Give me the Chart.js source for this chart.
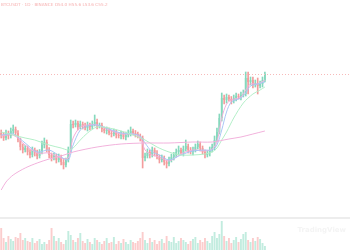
<!DOCTYPE html>
<html>
<head>
<meta charset="utf-8">
<script src="https://cdn.jsdelivr.net/npm/chart.js@4.4.1/dist/chart.umd.min.js"></script>
<style>
  body { margin: 0; background: #fff; }
  #wrap { position: relative; width: 350px; height: 250px; overflow: hidden; }
  #sep { height: 2px; background: #ededed; }
  canvas { display: block; }
  #legend { position: absolute; left: 1px; top: 2px; font: 4.2px "DejaVu Sans", sans-serif; color: #f6b0b0; white-space: nowrap; }
  #mark { position: absolute; right: 4px; top: 226px; font: bold 7px "DejaVu Sans", sans-serif; color: #f4f4f4; }
</style>
</head>
<body>
<div id="wrap">
  <canvas id="price" width="350" height="217"></canvas>
  <div id="sep"></div>
  <canvas id="vol" width="350" height="31"></canvas>
  <div id="legend">BTCUSDT · 1D · BINANCE  O54.0 H55.6 L53.6 C55.2</div>
  <div id="mark">TradingView</div>
</div>
<script>
// candles, one per slot
const opens = [43.4,43.0,42.4,43.4,42.8,43.8,44.2,43.4,42.0,40.6,
  40.0,40.4,39.6,39.0,40.0,39.4,38.8,39.6,41.0,41.6,
  40.0,39.0,38.4,38.8,38.0,38.6,37.6,37.0,38.0,40.0,
  45.2,45.0,45.4,44.6,45.2,44.8,44.4,45.0,44.6,45.2,
  45.6,44.8,45.0,44.2,43.8,44.0,43.4,43.2,43.6,43.0,
  42.8,43.2,42.6,43.0,43.4,43.8,43.4,43.2,42.8,42.4,
  38.4,38.8,39.6,39.0,40.0,39.4,38.6,38.0,38.4,37.6,
  37.2,38.0,38.6,39.0,39.6,40.0,39.4,40.2,40.8,40.0,
  39.6,40.0,40.6,41.2,40.4,39.6,39.0,39.4,40.0,40.6,
  42.0,43.6,46.4,50.4,50.0,50.6,50.2,49.8,50.4,50.8,
  50.6,51.0,51.2,54.4,53.6,54.0,53.0,53.4,52.8,53.2,
  54.0];
const closes = [43.0,42.4,43.4,42.8,43.8,44.2,43.4,42.0,40.6,40.0,
  40.4,39.6,39.0,40.0,39.4,38.8,39.6,41.0,41.6,40.0,
  39.0,38.4,38.8,38.0,38.6,37.6,37.0,38.0,40.0,45.2,
  45.0,45.4,44.6,45.2,44.8,44.4,45.0,44.6,45.2,45.6,
  44.8,45.0,44.2,43.8,44.0,43.4,43.2,43.6,43.0,42.8,
  43.2,42.6,43.0,43.4,43.8,43.4,43.2,42.8,42.4,38.4,
  38.8,39.6,39.0,40.0,39.4,38.6,38.0,38.4,37.6,37.2,
  38.0,38.6,39.0,39.6,40.0,39.4,40.2,40.8,40.0,39.6,
  40.0,40.6,41.2,40.4,39.6,39.0,39.4,40.0,40.6,42.0,
  43.6,46.4,50.4,50.0,50.6,50.2,49.8,50.4,50.8,50.6,
  51.0,51.2,54.4,53.6,54.0,53.0,53.4,52.8,53.2,54.0,
  55.2];
const highs = [44.0,43.5,44.0,43.8,44.4,45.0,44.6,43.9,42.4,41.2,
  40.9,40.8,40.1,40.6,40.4,40.0,40.1,41.8,42.4,42.0,
  40.5,39.4,39.4,39.2,39.2,39.0,38.1,38.4,40.6,46.0,
  45.8,46.0,45.8,45.8,45.6,45.4,45.6,45.4,45.8,47.0,
  46.2,45.4,45.4,44.6,44.6,44.4,43.9,44.2,44.0,43.5,
  43.8,43.6,43.6,44.0,44.6,44.2,43.9,43.6,43.2,42.8,
  39.4,40.2,40.0,40.6,40.4,39.9,39.0,39.0,38.8,38.0,
  38.6,39.2,39.5,40.2,40.8,40.4,40.8,42.0,41.2,40.5,
  40.6,41.2,41.8,41.6,40.8,40.0,39.9,40.6,41.2,42.8,
  44.4,47.2,51.4,51.0,51.2,51.0,50.7,51.0,51.4,51.2,
  51.6,52.0,55.6,55.6,54.6,54.6,54.0,54.4,53.8,54.6,
  55.6];
const lows = [42.4,41.9,42.0,42.2,42.4,43.3,42.8,41.6,40.0,39.4,
  39.6,39.0,38.4,38.6,38.8,38.2,38.4,39.2,40.4,39.6,
  38.4,37.8,38.0,37.4,37.6,37.0,36.2,36.6,37.6,39.6,
  44.4,44.6,44.0,44.2,44.2,44.0,43.8,44.0,44.2,44.8,
  44.2,44.4,43.6,43.4,43.2,43.0,42.6,42.8,42.4,42.4,
  42.2,42.2,42.0,42.6,42.8,43.0,42.6,42.4,41.8,36.4,
  37.8,38.4,38.4,38.6,38.8,38.2,37.4,37.6,37.0,36.4,
  36.8,37.6,38.0,38.6,39.0,39.0,38.8,39.8,39.4,39.2,
  39.0,39.6,40.2,39.8,39.2,38.4,38.6,38.8,39.6,40.0,
  41.6,43.2,45.8,49.2,49.4,49.8,49.2,49.4,49.8,50.2,
  50.0,50.6,50.8,51.2,53.0,52.4,52.6,51.2,52.4,52.6,
  53.6];
const volumes = [2200,1200,800,1400,1100,900,1300,1200,1700,1000,
  1200,900,800,1200,700,900,1100,600,800,600,
  1000,2200,1400,900,1200,800,600,1000,1900,1500,
  1000,800,1200,1700,900,700,1100,800,600,1200,
  1000,800,600,900,1200,700,800,1300,600,900,
  700,1100,800,600,1000,800,700,900,1200,1800,
  1000,700,1200,800,1000,600,900,1100,700,1400,
  900,800,1300,700,900,1200,1000,800,600,900,
  1100,1300,700,1000,800,1200,900,700,1400,1800,
  1200,1600,2900,1400,900,1200,700,1000,1300,800,
  1100,1600,1800,1000,800,1200,900,1300,1100,700,
  400];

// moving averages, read at [slot, value]
const maFast = [[0,42.8],[5,43.0],[10,41.0],[15,39.4],[20,39.4],[25,38.4],[28,38.4],[30,42.4],[33,44.6],[36,45.0],[40,45.0],[45,44.0],[50,43.2],[55,43.2],[58,42.6],[60,40.0],[63,39.0],[66,38.6],[70,37.8],[75,39.2],[80,40.0],[85,39.8],[88,40.2],[90,41.6],[92,46.4],[94,49.2],[96,50.0],[100,50.6],[102,52.0],[104,53.2],[107,53.2],[110,54.0]];
const maShort = [[0,43.0],[5,43.2],[10,41.4],[15,39.6],[20,40.0],[25,38.6],[28,38.0],[30,41.0],[33,44.0],[36,44.8],[40,45.0],[45,44.2],[50,43.4],[55,43.2],[58,42.8],[60,41.4],[63,39.6],[66,39.0],[70,38.0],[75,39.0],[80,39.8],[85,40.0],[88,40.0],[90,41.0],[92,44.0],[94,47.6],[96,49.6],[100,50.4],[102,51.4],[104,52.8],[107,53.2],[110,53.6]];
const maMid = [[0,43.6],[5,43.0],[10,42.4],[14,42.0],[20,41.0],[25,40.4],[28,40.0],[30,40.4],[33,42.0],[36,43.4],[40,44.6],[45,44.4],[50,43.8],[55,43.0],[60,42.0],[65,40.6],[70,39.6],[75,39.0],[80,39.0],[85,39.2],[88,39.6],[90,40.4],[92,42.0],[94,43.6],[97,46.4],[101,49.4],[105,51.2],[108,52.0],[110,52.6]];
const maLong = [[0,32.0],[2,33.6],[5,35.0],[10,36.4],[15,37.4],[20,38.2],[25,38.8],[30,39.6],[40,40.6],[50,41.2],[60,41.4],[70,41.4],[80,41.6],[88,41.6],[95,42.2],[100,42.6],[105,43.2],[110,43.8]];

const slots = Array.from({ length: 146 }, (_, i) => i);
const upCol = '#86d8bd', downCol = '#f39d9d';
const candleCol = opens.map((o, i) => closes[i] >= o ? upCol : downCol);
const volCol = opens.map((o, i) => closes[i] >= o ? '#c2ecdf' : '#fbcdcd');

const pts = arr => arr.map(p => ({ x: p[0], y: p[1] }));
const maLine = (arr, color) => ({
  type: 'line', data: pts(arr), borderColor: color, borderWidth: 1,
  pointRadius: 0, tension: 0.3, spanGaps: true, order: 0
});

const lastLine = {
  id: 'lastLine',
  afterDatasetsDraw(chart) {
    const { ctx, chartArea, scales } = chart;
    const y = Math.round(scales.y.getPixelForValue(closes[closes.length - 1])) + 0.5;
    ctx.save();
    ctx.strokeStyle = '#f7baba';
    ctx.lineWidth = 1;
    ctx.setLineDash([1, 2]);
    ctx.beginPath();
    ctx.moveTo(chartArea.left, y);
    ctx.lineTo(chartArea.right, y);
    ctx.stroke();
    ctx.restore();
  }
};

const noAxis = { display: false };

new Chart(document.getElementById('price'), {
  type: 'bar',
  data: {
    labels: slots,
    datasets: [
      maLine(maLong, '#f2b2dc'),
      maLine(maMid, '#b3efc8'),
      maLine(maShort, '#a9c7f5'),
      maLine(maFast, '#f3aedb'),
      { data: lows.map((l, i) => [l, highs[i]]), backgroundColor: candleCol,
        barThickness: 1, grouped: false, order: 2 },
      { data: opens.map((o, i) => [o, closes[i]]), backgroundColor: candleCol,
        barPercentage: 0.75, categoryPercentage: 1, grouped: false, order: 1 }
    ]
  },
  options: {
    responsive: false, animation: false,
    layout: { padding: 0 },
    plugins: { legend: { display: false }, tooltip: { enabled: false } },
    scales: {
      x: noAxis,
      y: { display: false, min: 26.6, max: 70 }
    }
  },
  plugins: [lastLine]
});

new Chart(document.getElementById('vol'), {
  type: 'bar',
  data: {
    labels: slots,
    datasets: [{ data: volumes, backgroundColor: volCol, barPercentage: 0.8, categoryPercentage: 1 }]
  },
  options: {
    responsive: false, animation: false,
    layout: { padding: 0 },
    plugins: { legend: { display: false }, tooltip: { enabled: false } },
    scales: { x: noAxis, y: { display: false, min: 0, max: 3100 } }
  }
});
</script>
</body>
</html>
